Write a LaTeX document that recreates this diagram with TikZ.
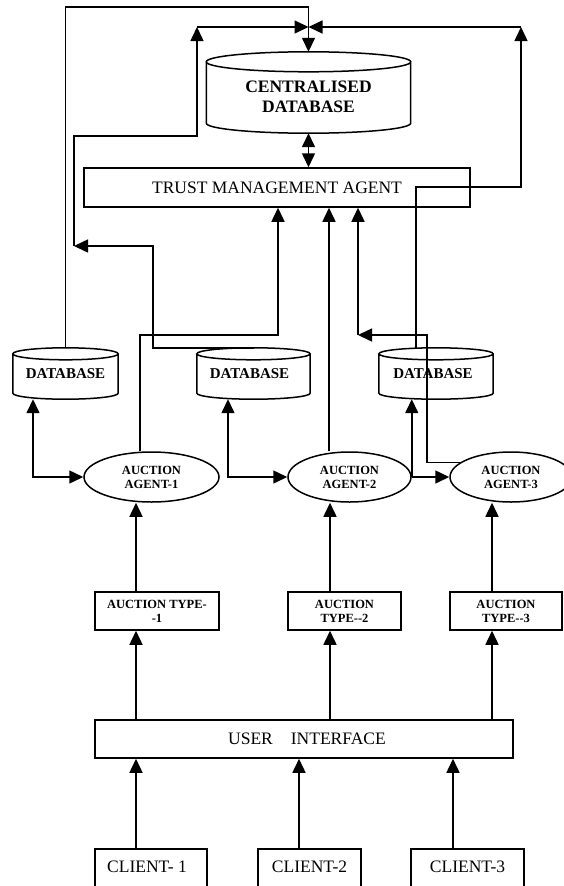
\documentclass[tikz,border=0pt]{standalone}
\usepackage{fontspec}
\setmainfont{Liberation Serif}
\usetikzlibrary{arrows.meta,shapes.geometric,calc}

\tikzset{
  ln/.style={line width=1.5pt},
  arr/.style={ln,-{Triangle[length=14pt,width=13pt]}},
  dblarr/.style={ln,{Triangle[length=14pt,width=13pt]}-{Triangle[length=14pt,width=13pt]}},
  box/.style={draw,ln,rectangle,inner sep=0pt,font=\fontsize{17.5}{20}\selectfont},
  tbox/.style={draw,ln,rectangle,inner sep=0pt,align=center,font=\bfseries\fontsize{12.5}{14}\selectfont},
  agent/.style={draw,ln,ellipse,inner sep=0pt,minimum height=50pt,align=center,font=\bfseries\fontsize{12.5}{14}\selectfont},
  dbase/.style={rectangle,inner sep=0pt},
  client/.style={draw,ln,rectangle,anchor=north,inner xsep=0pt,inner ysep=0pt,text height=23.5pt,text depth=40pt,font=\fontsize{17.5}{20}\selectfont},
}

\newcommand\drawcyl[2]{%
  \draw[ln] let \p1=(#1.north west), \p2=(#1.south east), \p3=(#1.north), \p4=($(#1.east)-(#1.center)$) in
    (\x1,\y1-#2) -- (\x1,\y2+#2) arc[start angle=180,end angle=360,x radius=\x4,y radius=#2] -- (\x2,\y1-#2)
    (\x3,\y1-#2) ellipse[x radius=\x4,y radius=#2];}

\begin{document}
\begin{tikzpicture}[x=1pt,y=-1pt]
\useasboundingbox (0,0) rectangle (564,886);
\clip (0,0) rectangle (564,886);

% databases
\node[dbase,minimum width=204pt,minimum height=81pt,
  label={[font=\bfseries\fontsize{17.5}{20}\selectfont,align=center,yshift=-4pt]center:CENTRALISED\\DATABASE}] (cdb) at (308.5,92.5) {};
\drawcyl{cdb}{10pt}
\node[dbase,minimum width=105pt,minimum height=51pt,
  label={[font=\bfseries\fontsize{15}{18}\selectfont]center:DATABASE}] (db1) at (65.5,373.5) {};
\drawcyl{db1}{6pt}
\node[dbase,minimum width=113pt,minimum height=51pt,
  label={[font=\bfseries\fontsize{15}{18}\selectfont,xshift=-4pt]center:DATABASE}] (db2) at (253.5,373.5) {};
\drawcyl{db2}{6pt}
\node[dbase,minimum width=114pt,minimum height=51pt,
  label={[font=\bfseries\fontsize{15}{18}\selectfont,xshift=-3pt]center:DATABASE}] (db3) at (436,373.5) {};
\drawcyl{db3}{6pt}

% trust management agent
\node[box,minimum width=386pt,minimum height=39pt] (tma) at (277,187.5) {TRUST MANAGEMENT AGENT};

% agents
\node[agent,minimum width=135pt] (agent1) at (151.5,477) {AUCTION\\AGENT-1};
\node[agent,minimum width=123pt] (agent2) at (349.5,477) {AUCTION\\AGENT-2};
\node[agent,minimum width=122pt] (agent3) at (511,477) {AUCTION\\AGENT-3};

% auction types
\node[tbox,minimum width=124pt,minimum height=38pt] (type1) at (157,611) {AUCTION TYPE-\\-1};
\node[tbox,minimum width=113pt,minimum height=38pt] (type2) at (344.5,611) {AUCTION\\TYPE-\kern0pt-2};
\node[tbox,minimum width=112pt,minimum height=38pt] (type3) at (506,611) {AUCTION\\TYPE-\kern0pt-3};

% user interface
\node[box,minimum width=418pt,minimum height=38pt] (ui) at (304,739) {\hspace*{6pt}USER\hspace*{18pt}INTERFACE};

% clients
\node[client,minimum width=112pt] (c1) at (151,848) {CLIENT- 1\hspace*{8pt}};
\node[client,minimum width=103pt] (c2) at (309.5,848) {CLIENT-2};
\node[client,minimum width=113pt] (c3) at (467.5,848) {CLIENT-3};

% coordinates for bends
\coordinate (k1) at (197,27);
\coordinate (k2) at (74,246);
\coordinate (k3) at (358,335);
\coordinate (k4) at (521,27);
\coordinate (m1) at (278,335);
\coordinate (m3) at (427,335);
\coordinate (b2) at (153,246);
\coordinate (b3) at (521,187);
\coordinate (b1) at (197,136);

% database links to centralised database
\draw[arr] (db1.north) -- ++(0,-341) -| (cdb.north);
\draw[arr] (db2.north) -| (b2) -- (k2);
\draw[arr] (k2) |- (b1) -- (k1);
\draw[arr] (k1) -- (k1 -| cdb.north);
\coordinate (d3) at ([xshift=-20pt]db3.north);
\draw[arr] (d3) |- (b3) -- (k4);
\draw[arr] (k4) -- (k4 -| cdb.north);
\draw[dblarr] (cdb.south) -- (cdb.south |- tma.north);

% agents to trust management agent
\coordinate (a1t) at ([xshift=-11.5pt]agent1.north);
\draw[arr] (a1t) |- (m1) -- (m1 |- tma.south);
\coordinate (a2t) at ([xshift=-20.5pt]agent2.north);
\draw[arr] (a2t) -- (a2t |- tma.south);
\draw[arr] (agent3.164) -| (m3) -- (k3);
\draw[arr] (k3) -- (k3 |- tma.south);

% databases and agents
\draw[dblarr] ([xshift=-32.5pt]db1.south) |- (agent1.west);
\draw[dblarr] ([xshift=-25.5pt]db2.south) |- (agent2.west);
\draw[arr] (agent2.east) -- (agent3.west);
\draw[arr] (agent2.east) -- (agent2.east |- db3.south);

% types to agents, ui to types
\coordinate (t1) at ([xshift=-21pt]type1.north);
\coordinate (t2) at ([xshift=-14.5pt]type2.north);
\coordinate (t3) at ([xshift=-14pt]type3.north);
\draw[arr] (t1) -- (t1 |- agent1.south);
\draw[arr] (t2) -- (t2 |- agent2.south);
\draw[arr] (t3) -- (t3 |- agent3.south);
\draw[arr] (ui.north -| t1) -- (type1.south -| t1);
\draw[arr] (ui.north -| t2) -- (type2.south -| t2);
\draw[arr] (ui.north -| t3) -- (type3.south -| t3);

% clients to ui
\coordinate (u1) at ([xshift=-15pt]c1.north);
\coordinate (u2) at ([xshift=-10.5pt]c2.north);
\coordinate (u3) at ([xshift=-14.5pt]c3.north);
\draw[arr] (u1) -- (u1 |- ui.south);
\draw[arr] (u2) -- (u2 |- ui.south);
\draw[arr] (u3) -- (u3 |- ui.south);
\end{tikzpicture}
\end{document}
